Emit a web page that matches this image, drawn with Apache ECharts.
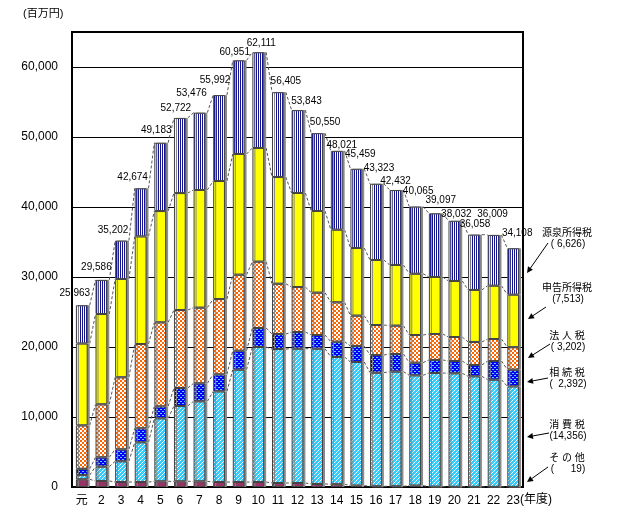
<!DOCTYPE html>
<html>
<head>
<meta charset="utf-8">
<script src="https://cdn.jsdelivr.net/npm/echarts@6/dist/echarts.min.js"></script>
<style>html,body{margin:0;padding:0;background:#fff}#c{width:620px;height:517px}</style>
</head>
<body>
<div id="c"></div>
<script>
var categories = ['元','2','3','4','5','6','7','8','9','10','11','12','13','14','15','16','17','18','19','20','21','22','23'];
var sonota   = [1100, 860, 710, 710, 810, 810, 810, 710, 710, 710, 570, 570, 430, 400, 200, 100, 100, 200, 50, 30, 20, 20, 19];
var shohi    = [600, 2050, 2960, 5670, 9000, 10760, 11430, 12950, 16050, 19290, 19140, 19190, 19330, 18170, 17660, 16230, 16380, 15750, 16240, 16210, 15790, 15310, 14356];
var sozoku   = [900, 1330, 1710, 2000, 1710, 2570, 2570, 2430, 2710, 2710, 2140, 2380, 1950, 2190, 2290, 2520, 2520, 1810, 1860, 1760, 1620, 2670, 2392];
var hojin    = [6200, 7570, 10290, 12050, 12000, 11140, 10810, 10760, 10860, 9480, 7190, 6430, 6050, 5620, 4330, 4290, 4050, 3950, 3710, 3430, 3290, 3140, 3202];
var shinkoku = [11700, 12900, 14050, 15370, 15900, 16710, 16810, 16860, 17240, 16240, 15240, 13430, 11670, 10380, 9660, 9290, 8670, 8760, 8140, 8000, 7430, 7620, 7513];
var totals   = [25963, 29586, 35202, 42674, 49183, 52722, 53476, 55992, 60951, 62111, 56405, 53843, 50550, 48021, 45459, 43323, 42432, 40065, 39097, 38032, 36058, 36009, 34108];
var gensen = totals.map(function(t,i){ return t - sonota[i] - shohi[i] - sozoku[i] - hojin[i] - shinkoku[i]; });
var yTicks = [0, 10000, 20000, 30000, 40000, 50000, 60000];
var annoNames = ['源泉所得税','申告所得税','法 人 税','相 続 税','消 費 税','そ の 他'];
var annoVals  = ['( 6,626)','(7,513)','( 3,202)','(  2,392)','(14,356)','(      19)'];

// label nudges (style only), in pixels
var labelOffsets = [[-7,-2],[-5,-3],[-8,0],[-8,-1],[-4,-2],[-4,0],[-8,-9],[-4,-5],[-4,2],[3,1],[8,-1],[9,1],[8,-1],[5,4],[4,-5],[3,-5],[0,1],[3,-5],[6,-3],[2,3],[1,0],[-1,-11],[4,-5]];

function tile(w, h, draw){
  var c = document.createElement('canvas'); c.width = w; c.height = h;
  var ctx = c.getContext('2d'); draw(ctx); return {image: c, repeat: 'repeat'};
}
var patGensen = tile(2, 2, function(ctx){ ctx.fillStyle='#fff'; ctx.fillRect(0,0,2,2); ctx.fillStyle='#14148c'; ctx.fillRect(0,0,1,2); });
var patShohi = tile(4, 4, function(ctx){ ctx.fillStyle='#33ccff'; ctx.fillRect(0,0,4,4); ctx.fillStyle='#fff';
  for (var y=0;y<4;y++) for (var x=0;x<4;x++) if ((x+y)%4===0) ctx.fillRect(x,y,1,1); });
var patSozoku = tile(4, 4, function(ctx){ ctx.fillStyle='#0000ff'; ctx.fillRect(0,0,4,4); ctx.fillStyle='#66ccff';
  ctx.fillRect(0,1,2,1); ctx.fillRect(2,3,2,1); });
var patHojin = tile(4, 4, function(ctx){ ctx.fillStyle='#fff'; ctx.fillRect(0,0,4,4); ctx.fillStyle='#ff6600';
  ctx.fillRect(0,0,2,2); ctx.fillRect(2,2,2,2); });

var FONT = "'Liberation Sans','Noto Sans CJK JP',sans-serif";
var layers = [sonota, shohi, sozoku, hojin, shinkoku, gensen];
var fills = ['#993366', patShohi, patSozoku, patHojin, '#ffff00', patGensen];

var series = layers.map(function(arr, k){
  var s = {
    type: 'bar', stack: 'all', barWidth: '60%', z: 3,
    data: k === 5 ? arr.map(function(v, i){ return { value: v, label: { offset: labelOffsets[i] } }; }) : arr,
    itemStyle: { color: fills[k], borderColor: '#444', borderWidth: 1, shadowColor: '#888', shadowOffsetX: 2, shadowOffsetY: 0, shadowBlur: 0 },
    emphasis: { disabled: true }, animation: false
  };
  if (k === 5) {
    s.label = { show: true, position: 'top', distance: 5, fontSize: 10, fontFamily: FONT, color: '#000',
      formatter: function(p){ return totals[p.dataIndex].toLocaleString('en-US'); } };
  }
  return s;
});

var cum = categories.map(function(_, i){
  var acc = 0; return layers.map(function(arr){ acc += arr[i]; return acc; });
});
series.push({
  type: 'custom', z: 2, animation: false, silent: true,
  data: categories.slice(0, categories.length - 1).map(function(_, i){ return i; }),
  renderItem: function(params, api){
    var i = api.value(0);
    var bw = api.size([1, 0])[0] * 0.6;
    var children = [];
    for (var k = 0; k < 6; k++) {
      var a = api.coord([i, cum[i][k]]);
      var b = api.coord([i + 1, cum[i + 1][k]]);
      children.push({ type: 'line', shape: { x1: a[0] + bw / 2 + 2, y1: a[1], x2: b[0] - bw / 2, y2: b[1] },
        style: { stroke: '#555', lineWidth: 1, lineDash: [3, 2] } });
    }
    return { type: 'group', children: children };
  },
  encode: { x: 0 }
});

var graphics = [
  { type: 'text', left: 23, top: 8, style: { text: '(百万円)', font: '11px ' + FONT, fill: '#000' } },
  { type: 'text', left: 520, top: 494, style: { text: '(年度)', font: '12px ' + FONT, fill: '#000' } }
];
var annoY = [233, 288, 336, 373, 425, 458];
var arrows = [[548,243,527,273],[546,307,528,319],[550,344,528,358],[548,378,527,382],[549,433,527,437],[548,467,527,482]];
annoNames.forEach(function(n, k){
  graphics.push({ type: 'text', x: 567, y: annoY[k], style: { text: n, font: '10px ' + FONT, fill: '#000', align: 'center', verticalAlign: 'middle' } });
  graphics.push({ type: 'text', x: 568, y: annoY[k] + 11, style: { text: annoVals[k], font: '10px ' + FONT, fill: '#000', align: 'center', verticalAlign: 'middle' } });
  var a = arrows[k];
  var dx = a[2] - a[0], dy = a[3] - a[1], L = Math.sqrt(dx*dx + dy*dy), ux = dx / L, uy = dy / L;
  var hx = a[2] - ux * 6, hy = a[3] - uy * 6;
  graphics.push({ type: 'line', shape: { x1: a[0], y1: a[1], x2: hx, y2: hy }, style: { stroke: '#000', lineWidth: 1 } });
  graphics.push({ type: 'polygon', shape: { points: [[a[2], a[3]], [hx - uy * 3, hy + ux * 3], [hx + uy * 3, hy - ux * 3]] }, style: { fill: '#000' } });
});

var chart = echarts.init(document.getElementById('c'), null, { renderer: 'canvas' });
chart.setOption({
  backgroundColor: '#fff',
  animation: false,
  grid: { left: 72, right: 97, top: 32, bottom: 30, show: true, borderColor: '#000', borderWidth: 2, backgroundColor: 'transparent' },
  xAxis: {
    type: 'category', data: categories,
    axisLine: { lineStyle: { color: '#000', width: 2 } },
    axisTick: { show: false },
    axisLabel: { fontSize: 12, fontFamily: FONT, color: '#000', margin: 8, interval: 0 }
  },
  yAxis: {
    type: 'value', min: 0, max: 65000, interval: 10000,
    axisLine: { show: true, lineStyle: { color: '#000', width: 2 } },
    axisTick: { show: false },
    splitLine: { show: true, lineStyle: { color: '#000', width: 1 } },
    axisLabel: { fontSize: 12, fontFamily: FONT, color: '#000', margin: 14, showMaxLabel: false,
      formatter: function(v){ return yTicks.indexOf(v) >= 0 ? v.toLocaleString('en-US') : ''; } }
  },
  series: series,
  graphic: graphics
});
</script>
</body>
</html>
